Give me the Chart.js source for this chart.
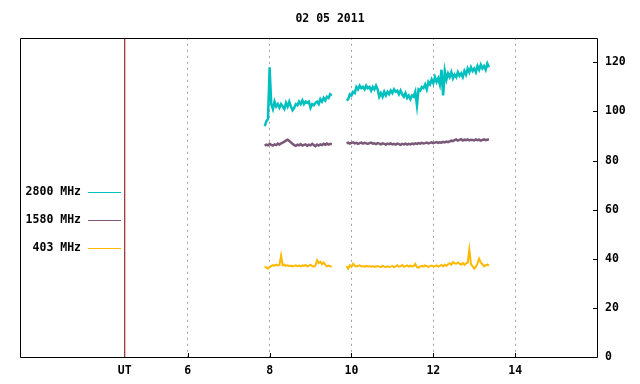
<!DOCTYPE html>
<html>
<head>
<meta charset="utf-8">
<script src="https://cdn.jsdelivr.net/npm/chart.js@4"></script>
<style>
  body { margin: 0; background: #fff; }
</style>
</head>
<body>
<canvas id="chart" width="640" height="384"></canvas>
<script>
// 02 05 2011 solar radio flux, three frequencies (UT hours)
const titleText = '02 05 2011';
const seriesLabels = ['2800 MHz', '1580 MHz', '403 MHz'];
const seriesColors = ['#00bfbf', '#7a5878', '#ffb800'];

const xMin = 1.9, xMax = 16.0;
const utMark = 4.46;
const xTickValues = [utMark, 6, 8, 10, 12, 14];
const yTickValues = [0, 20, 40, 60, 80, 100, 120];

// two observing blocks, sample every 0.04 h
const seg1Start = 7.88, seg2Start = 9.88, sampleStep = 0.04;

const flux2800a = [94, 96, 97, 118, 103, 101, 104, 102, 103, 101.5,
  103, 102, 101, 103.5, 102, 104, 102, 100.5, 101.5, 103,
  102.5, 104, 103, 104.5, 103, 104, 103.5, 104, 101.5, 103,
  102.5, 103.5, 104, 103, 105, 104, 105.5, 104.5, 106, 105.5,
  107, 106.5];
const flux2800b = [104.5, 105, 107, 106.5, 108, 107.5, 110, 109, 110.5, 109.5,
  110, 109, 110.5, 109.5, 110, 108.5, 110, 109, 110.5, 109,
  106, 107.5, 106, 108, 106.5, 108, 107, 108.5, 107.5, 109,
  108, 108.5, 107, 108.5, 107, 106, 107.5, 105.5, 106.5, 105,
  106.5, 106, 108, 102.5, 109, 108.5, 110, 109.5, 111, 109,
  112, 111, 113, 111.5, 114, 112, 113.5, 111, 117, 106.5,
  116.5, 113, 115.5, 114, 116, 113.5, 115, 114, 116, 114.5,
  115.5, 114, 116.5, 115, 117.5, 116, 118, 116.5, 117.5, 116,
  118.5, 117, 119, 117.5, 118.5, 117, 119.5, 118];

const flux1580a = [86.0, 86.5, 86.2, 86.8, 86.4, 86.1, 86.6, 86.3, 86.9, 86.5,
  87.0, 87.3, 87.7, 88.1, 88.5, 88.0, 87.4, 86.8, 86.3, 86.0,
  86.5, 86.2, 86.7, 86.1, 86.4, 86.6, 86.0, 86.5, 86.2, 86.8,
  86.3, 85.9, 86.5, 86.1, 86.6, 86.3, 86.8, 86.4, 86.9, 86.5,
  86.8, 86.6];
const flux1580b = [87.0, 87.3, 86.9, 87.2, 87.4, 87.0, 87.2, 86.8, 87.1, 87.3,
  86.9, 87.2, 87.0, 86.8, 87.1, 87.3, 86.9, 87.0, 86.7, 87.1,
  86.9, 86.6, 87.0, 86.8, 86.5, 86.9, 86.7, 87.0, 86.6, 86.8,
  86.5, 86.9, 86.7, 86.4, 86.8, 86.6, 86.9, 86.5, 86.8, 86.6,
  86.9, 86.7, 87.0, 86.8, 87.1, 86.9, 87.2, 87.0, 87.1, 87.3,
  87.0, 87.2, 87.4, 87.1, 87.3, 87.5, 87.2, 87.4, 87.3, 87.6,
  87.4, 87.7, 87.5, 87.8, 88.1, 87.9, 88.3, 88.6, 88.1, 88.4,
  88.7, 88.2, 88.5, 88.3, 88.6, 88.2, 88.5, 88.4, 88.2, 88.6,
  88.3, 88.5, 88.1, 88.4, 88.6, 88.3, 88.5, 88.7];

const flux403a = [36.9, 36.4, 36.0, 36.6, 37.0, 37.4, 37.2, 37.6, 37.3, 37.5,
  41.3, 37.4, 37.6, 37.1, 37.3, 37.0, 37.2, 36.9, 37.1, 37.3,
  37.0, 37.2, 36.9, 37.3, 37.1, 37.5, 36.9, 37.2, 37.6, 37.0,
  36.8, 37.2, 39.4, 38.3, 38.8, 37.8, 38.5, 37.6, 36.9, 37.2,
  37.0, 36.9];
const flux403b = [37.0, 36.0, 37.4, 36.7, 38.0, 37.2, 36.9, 37.1, 37.3, 36.9,
  37.0, 36.8, 37.1, 36.9, 37.0, 36.8, 37.0, 36.7, 36.9, 37.0,
  36.8, 36.6, 37.2, 36.8, 36.6, 36.9, 36.7, 36.8, 37.0, 36.6,
  36.9, 37.4, 36.8, 36.9, 37.5, 36.7, 37.0, 37.3, 36.8, 37.2,
  36.9, 37.0, 37.9, 36.6, 36.4, 36.9, 37.1, 36.8, 37.3, 37.0,
  36.7, 37.0, 37.2, 36.9, 37.0, 37.3, 36.8, 37.1, 37.5, 36.9,
  37.6, 37.2, 37.8, 38.2, 37.6, 38.6, 38.2, 38.0, 38.5, 38.0,
  37.6, 38.3, 37.5, 38.1, 38.4, 43.8, 37.8, 36.9, 36.0, 36.8,
  38.1, 40.0, 38.5, 37.8, 36.9, 37.4, 37.6, 37.2];

// join the two blocks with a null so the line breaks in the gap
function toPoints(a, b) {
  const pts = a.map((v, i) => ({ x: seg1Start + i * sampleStep, y: v }));
  pts.push({ x: (seg1Start + a.length * sampleStep + seg2Start) / 2, y: null });
  b.forEach((v, i) => pts.push({ x: seg2Start + i * sampleStep, y: v }));
  return pts;
}

const FONT = { family: "'DejaVu Sans Mono', monospace", size: 11.5, weight: 'bold' };

// frame, inward tick marks and the left legend
const framePlugin = {
  id: 'frame',
  afterDraw(chart) {
    const { ctx, chartArea: a } = chart;
    const xs = chart.scales.x, ys = chart.scales.y;
    ctx.save();
    ctx.strokeStyle = '#000';
    ctx.lineWidth = 1;
    ctx.beginPath();
    ctx.rect(Math.round(a.left) + 0.5, Math.round(a.top) + 0.5,
      Math.round(a.right - a.left), Math.round(a.bottom - a.top));
    yTickValues.forEach(v => {
      const py = Math.round(ys.getPixelForValue(v)) + 0.5;
      ctx.moveTo(a.right - 4, py); ctx.lineTo(a.right, py);
    });
    xTickValues.slice(1).forEach(v => {
      const px = Math.round(xs.getPixelForValue(v)) + 0.5;
      ctx.moveTo(px, a.bottom - 4); ctx.lineTo(px, a.bottom);
    });
    ctx.stroke();

    ctx.font = FONT.weight + ' ' + FONT.size + 'px ' + FONT.family;
    ctx.fillStyle = '#000';
    ctx.textAlign = 'right';
    ctx.textBaseline = 'middle';
    seriesLabels.forEach((lab, i) => {
      const y = Math.round(a.top + 154 + i * 28.3) + 0.5;
      ctx.fillText(lab, a.left + 61, y);
      ctx.strokeStyle = seriesColors[i];
      ctx.beginPath();
      ctx.moveTo(a.left + 68, y); ctx.lineTo(a.left + 101, y);
      ctx.stroke();
    });
    ctx.restore();
  }
};

new Chart(document.getElementById('chart'), {
  type: 'line',
  data: {
    datasets: [
      { label: seriesLabels[0], data: toPoints(flux2800a, flux2800b), borderColor: seriesColors[0], borderWidth: 2.5 },
      { label: seriesLabels[1], data: toPoints(flux1580a, flux1580b), borderColor: seriesColors[1], borderWidth: 2.5 },
      { label: seriesLabels[2], data: toPoints(flux403a, flux403b), borderColor: seriesColors[2], borderWidth: 2 },
      { label: 'UT', data: [{ x: utMark, y: 0 }, { x: utMark, y: 130 }], borderColor: '#7a0000', borderWidth: 1 }
    ]
  },
  options: {
    responsive: false,
    animation: false,
    spanGaps: false,
    elements: { point: { radius: 0 }, line: { borderWidth: 1, tension: 0 } },
    layout: { padding: { left: 20, top: 0, right: 0, bottom: 0 } },
    plugins: {
      legend: { display: false },
      tooltip: { enabled: false },
      title: { display: true, text: titleText, color: '#000', font: FONT, padding: { top: 12, bottom: 12 } }
    },
    scales: {
      x: {
        type: 'linear', min: xMin, max: xMax,
        afterBuildTicks: s => { s.ticks = xTickValues.map(v => ({ value: v })); },
        afterFit: s => { s.height = 27; },
        ticks: {
          autoSkip: false, maxRotation: 0, padding: 7, color: '#000', font: FONT,
          callback: v => (v === utMark ? 'UT' : v)
        },
        grid: {
          drawTicks: false,
          color: c => (c.tick && c.tick.value === utMark ? 'rgba(0,0,0,0)' : '#a0a0a0')
        },
        border: { display: false, dash: [2, 4] }
      },
      y: {
        position: 'right', min: 0, max: 130,
        afterBuildTicks: s => { s.ticks = yTickValues.map(v => ({ value: v })); },
        afterFit: s => { s.width = 43; },
        ticks: { padding: 8, color: '#000', font: FONT },
        grid: { display: false, drawTicks: false },
        border: { display: false }
      }
    }
  },
  plugins: [framePlugin]
});
</script>
</body>
</html>
